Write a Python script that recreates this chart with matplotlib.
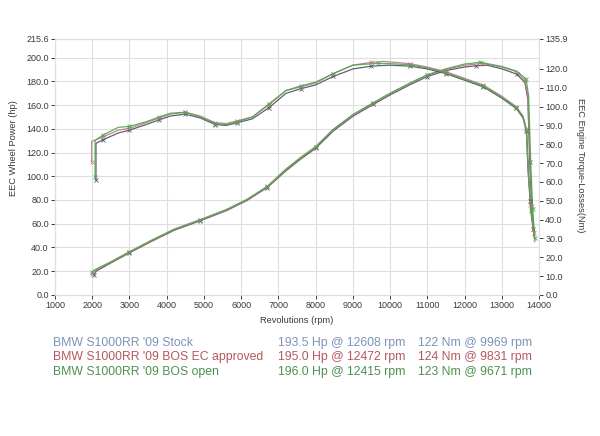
import matplotlib
matplotlib.use("Agg")
import matplotlib.pyplot as plt

plt.rcParams['font.family'] = ['Liberation Sans', 'DejaVu Sans']

# ---------------- data ----------------
series_names = ["BMW S1000RR '09 Stock", "BMW S1000RR '09 BOS EC approved", "BMW S1000RR '09 BOS open"]
power_peaks = ["193.5 Hp @ 12608 rpm", "195.0 Hp @ 12472 rpm", "196.0 Hp @ 12415 rpm"]
torque_peaks = ["122 Nm @ 9969 rpm", "124 Nm @ 9831 rpm", "123 Nm @ 9671 rpm"]

# Power (hp, left axis)
rpm_p_stock = [2050, 2100, 2500, 3000, 3550, 4200, 4900, 5600, 6150, 6700, 7200, 7600, 8000, 8470, 9000,
               9550, 10000, 10530, 11000, 11500, 12000, 12300, 12608, 13000, 13400, 13620, 13700, 13750, 13800, 13860]
hp_stock = [17.0, 20.0, 27.0, 35.5, 44.5, 54.5, 62.5, 71.0, 79.5, 90.5, 104.5, 114.5, 123.5, 138.0, 150.5,
            160.5, 168.5, 177.0, 184.0, 189.0, 192.0, 193.0, 193.5, 190.5, 186.0, 179.0, 165.0, 112.0, 78.0, 50.0]

rpm_p_ec = [2000, 2050, 2500, 3000, 3550, 4200, 4900, 5600, 6150, 6700, 7200, 7600, 8000, 8470, 9000,
            9550, 10000, 10530, 11000, 11500, 12000, 12472, 13000, 13400, 13620, 13700, 13760, 13810, 13870]
hp_ec = [18.0, 20.5, 27.5, 36.0, 45.0, 55.0, 63.0, 71.5, 80.0, 91.0, 105.5, 115.5, 124.5, 139.0, 151.5,
         161.5, 169.5, 178.0, 185.0, 190.0, 193.5, 195.0, 192.0, 188.0, 181.0, 168.0, 110.0, 75.0, 48.0]

rpm_p_open = [2000, 2050, 2500, 3000, 3550, 4200, 4900, 5600, 6150, 6700, 7200, 7600, 8000, 8470, 9000,
              9550, 10000, 10530, 11000, 11500, 12000, 12415, 13000, 13400, 13650, 13720, 13780, 13830, 13890]
hp_open = [19.0, 21.0, 28.0, 36.5, 45.5, 55.5, 63.5, 72.0, 80.5, 91.5, 106.0, 116.0, 125.0, 139.5, 152.0,
           162.0, 170.0, 178.5, 185.5, 190.5, 194.5, 196.0, 192.5, 188.5, 182.0, 168.0, 110.0, 72.0, 45.0]

# Torque (Nm, right axis)
rpm_t_stock = [2100, 2100, 2300, 2700, 3000, 3450, 3800, 4100, 4500, 4900, 5300, 5600, 5900, 6300, 6750,
               7200, 7600, 8000, 8470, 9000, 9500, 9969, 10530, 11000, 11500, 12000, 12500, 13000, 13390,
               13570, 13660, 13705, 13760, 13800, 13850]
nm_stock = [61.0, 80.5, 82.5, 86.0, 87.5, 90.5, 93.0, 95.0, 96.0, 94.0, 90.5, 90.0, 91.5, 93.5, 99.5,
            107.0, 109.5, 111.5, 116.0, 120.0, 121.5, 122.0, 121.5, 120.0, 117.5, 114.0, 110.5, 104.5, 99.0,
            94.0, 87.0, 66.0, 50.0, 41.0, 35.0]

rpm_t_ec = [1985, 1985, 2300, 2700, 3000, 3450, 3800, 4100, 4500, 4900, 5300, 5600, 5900, 6300, 6750,
            7200, 7600, 8000, 8470, 9000, 9500, 9831, 10530, 11000, 11500, 12000, 12500, 13000, 13390,
            13570, 13660, 13710, 13770, 13810, 13860]
nm_ec = [70.8, 81.5, 84.0, 87.5, 88.5, 91.5, 94.0, 96.0, 97.0, 95.0, 91.5, 91.0, 92.5, 94.5, 101.0,
         108.5, 110.5, 112.5, 117.5, 122.0, 123.5, 124.0, 122.8, 121.0, 118.5, 115.0, 111.5, 105.5, 100.0,
         95.0, 88.0, 66.0, 48.0, 40.0, 33.0]

rpm_t_open = [2075, 2075, 2300, 2700, 3000, 3450, 3800, 4100, 4500, 4900, 5300, 5600, 5900, 6300, 6750,
              7200, 7600, 8000, 8470, 9000, 9671, 10000, 10530, 11000, 11500, 12000, 12500, 13000, 13390,
              13570, 13670, 13720, 13790, 13840, 13890]
nm_open = [62.5, 82.0, 85.0, 89.0, 89.5, 92.0, 94.5, 96.5, 97.0, 94.5, 91.0, 90.5, 92.0, 94.5, 101.5,
           108.5, 111.0, 113.0, 117.5, 122.0, 123.0, 122.8, 122.2, 120.5, 118.0, 114.5, 111.0, 105.0, 99.5,
           94.5, 87.0, 64.0, 45.0, 36.0, 30.0]

hp_ticks = [0, 20, 40, 60, 80, 100, 120, 140, 160, 180, 200, 215.6]
nm_ticks = [0, 10, 20, 30, 40, 50, 60, 70, 80, 90, 100, 110, 120, 135.9]
rpm_ticks = list(range(1000, 14001, 1000))

line_colors = ['#4a505c', '#c27585', '#4ea64e']
text_colors = ['#7d93b5', '#b5585c', '#4f904f']

# ---------------- figure ----------------
fig = plt.figure(figsize=(6.0, 4.36), dpi=100)
ax = fig.add_axes([0.0917, 0.3234, 0.8067, 0.5872])
ax2 = ax.twinx()

ax.set_xlim(1000, 14000)
ax.set_ylim(0, 215.6)
ax2.set_ylim(0, 135.9)

grid_c = '#dedede'
ax.set_xticks(rpm_ticks)
ax.set_yticks(hp_ticks)
ax.set_yticklabels([f"{v:.1f}" for v in hp_ticks])
ax2.set_yticks(nm_ticks)
ax2.set_yticklabels([f"{v:.1f}" for v in nm_ticks])
ax.grid(True, color=grid_c, linewidth=0.8)
ax.set_axisbelow(True)
for a in (ax, ax2):
    for s in a.spines.values():
        s.set_color(grid_c)
        s.set_linewidth(0.8)

tick_c = '#3a3a3a'
ax.tick_params(axis='both', labelsize=6.5, colors=tick_c, length=3, width=0.7, pad=1.5)
ax2.tick_params(axis='y', labelsize=6.5, colors=tick_c, length=3, width=0.7, pad=1.5)

ax.set_xlabel("Revolutions (rpm)", fontsize=6.7, color=tick_c, labelpad=4)
fig.text(0.022, 0.66, "EEC Wheel Power (hp)", rotation=90, fontsize=6.7, color=tick_c,
         ha='center', va='center')
fig.text(0.967, 0.62, "EEC Engine Torque-Losses(Nm)", rotation=270, fontsize=6.7, color=tick_c,
         ha='center', va='center')

power_sets = [(rpm_p_stock, hp_stock), (rpm_p_ec, hp_ec), (rpm_p_open, hp_open)]
torque_sets = [(rpm_t_stock, nm_stock), (rpm_t_ec, nm_ec), (rpm_t_open, nm_open)]
for i in range(3):
    x, y = power_sets[i]
    ax.plot(x, y, color=line_colors[i], linewidth=0.9, marker='x', markersize=2.5,
            markeredgewidth=0.6, markevery=3, alpha=0.9)
    x, y = torque_sets[i]
    ax2.plot(x, y, color=line_colors[i], linewidth=0.9, marker='x', markersize=3,
             markeredgewidth=0.6, markevery=2, alpha=0.9)

# legend rows as text
rows_y = [343.3, 357.3, 371.5]
for i in range(3):
    yf = 1 - rows_y[i] / 436
    fig.text(53 / 600, yf, series_names[i], fontsize=8.8, color=text_colors[i], va='center', ha='left')
    fig.text(278 / 600, yf, power_peaks[i], fontsize=8.8, color=text_colors[i], va='center', ha='left')
    fig.text(418 / 600, yf, torque_peaks[i], fontsize=8.8, color=text_colors[i], va='center', ha='left')

fig.savefig("out.png", dpi=100, facecolor='white')
